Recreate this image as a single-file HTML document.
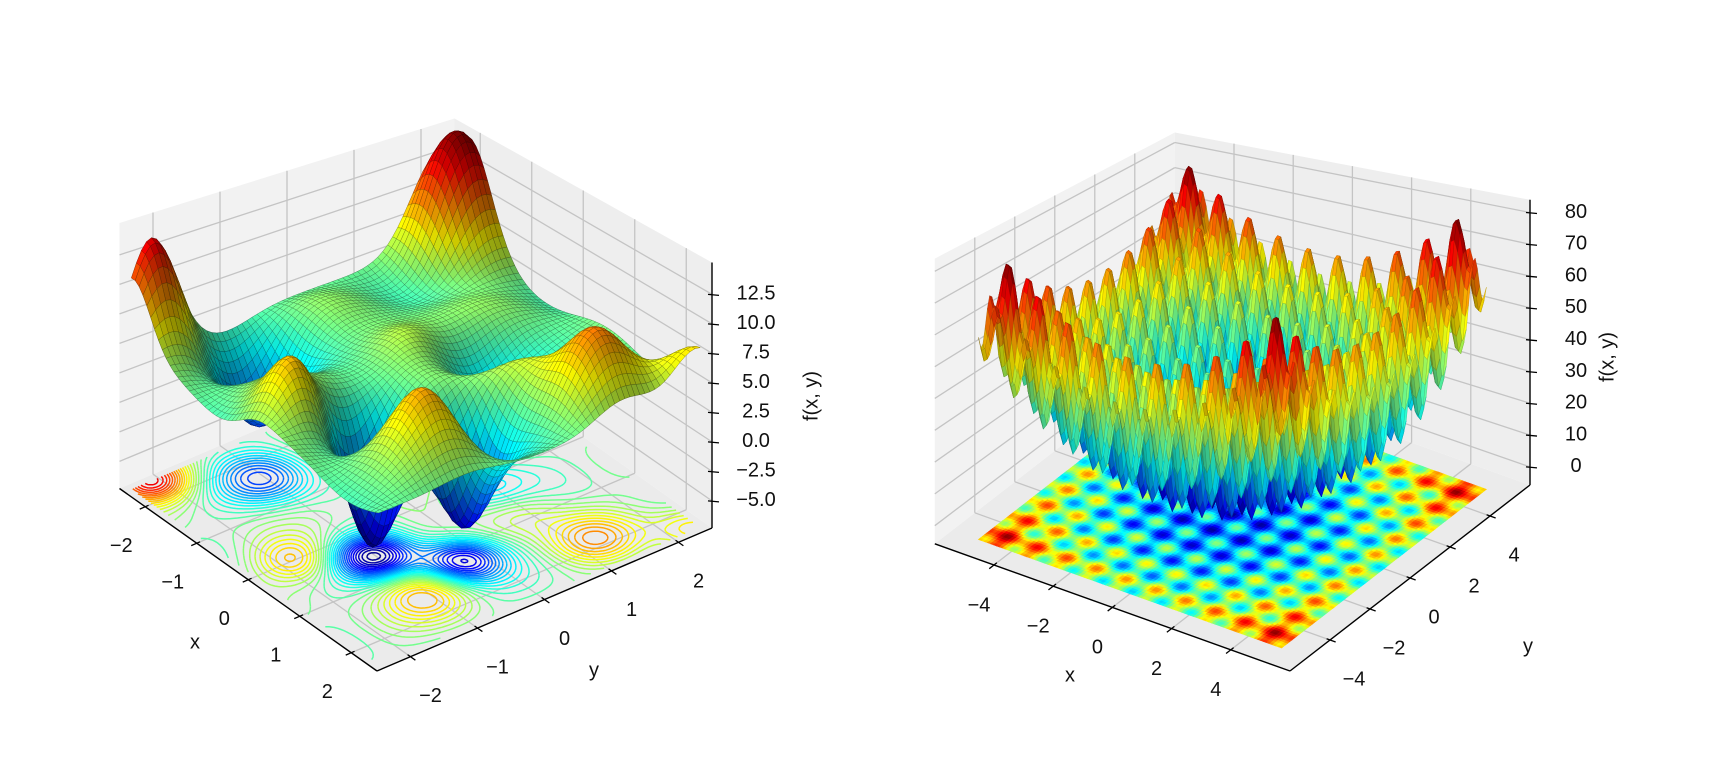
<!DOCTYPE html>
<html><head><meta charset="utf-8">
<style>
html,body{margin:0;padding:0;background:#fff;}
svg{display:block;}
text{font-family:"Liberation Sans",sans-serif;font-size:20px;fill:#111;}
</style></head>
<body>
<svg id="fig" xmlns="http://www.w3.org/2000/svg" width="1724" height="770" viewBox="0 0 1724 770">
<rect x="0" y="0" width="1724" height="770" fill="#fff"/>
</svg>
<script>
// ---------- data: left surface (sum of bumps) ----------
const bumpX   = [-2.4, -2.1, 1.53, 1.83, 0.0, -0.5, 0.8, 0.51, 1.24, -1.63, 0.2, 2.35];
const bumpY   = [-2.1,  2.2, -1.04, 1.26, -1.8, 0.2, 0.9, -1.02, -0.27, -1.02, 0.9, 2.35];
const bumpAmp = [ 9.5, 11.5, 5.0,  5.0,  5.0,  3.0, 3.0, -10.0, -9.0, -6.0, -3.5, 4.0];
const bumpW   = [0.35, 0.42, 0.4,  0.4,  0.35, 0.4, 0.4, 0.35, 0.35, 0.4, 0.4, 0.35];
const leftBase = [4.0];
// ---------- data: right surface (Rastrigin) ----------
const rastA = [10];
// ---------- ticks ----------
const leftXTicks = [-2,-1,0,1,2];
const leftYTicks = [-2,-1,0,1,2];
const leftZTicks = [-5,-2.5,0,2.5,5,7.5,10,12.5];
const leftZLabels = ["\u22125.0","\u22122.5","0.0","2.5","5.0","7.5","10.0","12.5"];
const rightXTicks = [-4,-2,0,2,4];
const rightYTicks = [-4,-2,0,2,4];
const rightZTicks = [0,10,20,30,40,50,60,70,80];

const NS="http://www.w3.org/2000/svg";
const svg=document.getElementById('fig');
function mk(tag,parent){const e=document.createElementNS(NS,tag);parent.appendChild(e);return e;}
function clamp(v,a,b){return v<a?a:(v>b?b:v);}
function jet(t){t=clamp(t,0,1);
  return [clamp(1.5-Math.abs(4*t-3),0,1),clamp(1.5-Math.abs(4*t-2),0,1),clamp(1.5-Math.abs(4*t-1),0,1)];}
function rgb(c,s){return 'rgb('+Math.round(clamp(c[0]*s,0,1)*255)+','+Math.round(clamp(c[1]*s,0,1)*255)+','+Math.round(clamp(c[2]*s,0,1)*255)+')';}
function fmt(v){return v<0?'\u2212'+(-v):''+v;}

function leftF(x,y){let z=leftBase[0];
  for(let i=0;i<bumpX.length;i++){const dx=x-bumpX[i],dy=y-bumpY[i];z+=bumpAmp[i]*Math.exp(-(dx*dx+dy*dy)/(2*bumpW[i]*bumpW[i]));}
  z+=1.2*Math.sin(2.6*x)*Math.cos(2.2*y);
  return z;}
function rightF(x,y){const A=rastA[0];return 2*A+x*x-A*Math.cos(2*Math.PI*x)+y*y-A*Math.cos(2*Math.PI*y);}

function makeProj(c){
  return function(x,y,z){
    const d=((c.xmax-x)/(c.xmax-c.xmin)+(y-c.ymin)/(c.ymax-c.ymin))/2;
    const s=c.side*(1-c.k*(d-0.5));
    return [c.F[0]+(x-c.xmax)*c.ex[0]+(y-c.ymin)*c.ey[0],
            c.F[1]+(x-c.xmax)*c.ex[1]+(y-c.ymin)*c.ey[1]-(z-c.zmin)*s];
  };
}
function pts(arr){return arr.map(p=>p[0].toFixed(1)+','+p[1].toFixed(1)).join(' ');}

function drawPlot(c,name){
  const P=makeProj(c);
  const g=mk('g',svg);
  
  
  const panes=[
    {n:'floor-pane',fill:'#ebebeb',q:[[c.xmin,c.ymin,c.zmin],[c.xmax,c.ymin,c.zmin],[c.xmax,c.ymax,c.zmin],[c.xmin,c.ymax,c.zmin]]},
    {n:'left-pane',fill:'#f2f2f2',q:[[c.xmin,c.ymin,c.zmin],[c.xmin,c.ymax,c.zmin],[c.xmin,c.ymax,c.zmax],[c.xmin,c.ymin,c.zmax]]},
    {n:'right-pane',fill:'#eeeeee',q:[[c.xmin,c.ymax,c.zmin],[c.xmax,c.ymax,c.zmin],[c.xmax,c.ymax,c.zmax],[c.xmin,c.ymax,c.zmax]]}];
  panes.forEach(p=>{const e=mk('polygon',g);
    
    
    e.setAttribute('points',pts(p.q.map(v=>P(v[0],v[1],v[2]))));e.setAttribute('fill',p.fill);});
  const gg=mk('g',g);
  
  
  function gl(a,b){const e=mk('line',gg);const p=P(a[0],a[1],a[2]),q=P(b[0],b[1],b[2]);
    e.setAttribute('x1',p[0]);e.setAttribute('y1',p[1]);e.setAttribute('x2',q[0]);e.setAttribute('y2',q[1]);
    e.setAttribute('stroke','#c4c4c4');e.setAttribute('stroke-width','1.3');}
  c.xt.forEach(t=>{gl([t,c.ymin,c.zmin],[t,c.ymax,c.zmin]);gl([t,c.ymax,c.zmin],[t,c.ymax,c.zmax]);});
  c.yt.forEach(t=>{gl([c.xmin,t,c.zmin],[c.xmax,t,c.zmin]);gl([c.xmin,t,c.zmin],[c.xmin,t,c.zmax]);});
  c.zt.forEach(t=>{gl([c.xmin,c.ymin,t],[c.xmin,c.ymax,t]);gl([c.xmin,c.ymax,t],[c.xmax,c.ymax,t]);});
  const ax=mk('g',g);
  
  
  function line(p,q,w){const e=mk('line',ax);e.setAttribute('x1',p[0]);e.setAttribute('y1',p[1]);e.setAttribute('x2',q[0]);e.setAttribute('y2',q[1]);e.setAttribute('stroke','#000');e.setAttribute('stroke-width',w);return e;}
  line(P(c.xmin,c.ymin,c.zmin),P(c.xmax,c.ymin,c.zmin),1.4);
  line(P(c.xmax,c.ymin,c.zmin),P(c.xmax,c.ymax,c.zmin),1.4);
  line(P(c.xmax,c.ymax,c.zmin),P(c.xmax,c.ymax,c.zmax),1.4);
  function label(txt,x,y,nm,rot){const t=mk('text',g);t.textContent=txt;
    t.setAttribute('x',x);t.setAttribute('y',y);t.setAttribute('text-anchor','middle');t.setAttribute('dominant-baseline','middle');
    if(rot)t.setAttribute('transform','rotate(-90 '+x+' '+y+')');
    
    
    return t;}
  const eyl=Math.hypot(c.ey[0],c.ey[1]), exl=Math.hypot(c.ex[0],c.ex[1]);
  c.xt.forEach(t=>{const p=P(t,c.ymin,c.zmin);const u=[-c.ey[0]/eyl*6,-c.ey[1]/eyl*6];
    line([p[0]-u[0]*0.6,p[1]-u[1]*0.6],[p[0]+u[0],p[1]+u[1]],1.3);
    label(fmt(t),p[0]+c.xo[0],p[1]+c.xo[1],'x-tick-label');});
  c.yt.forEach(t=>{const p=P(c.xmax,t,c.zmin);const u=[c.ex[0]/exl*6,c.ex[1]/exl*6];
    line([p[0]-u[0]*0.6,p[1]-u[1]*0.6],[p[0]+u[0],p[1]+u[1]],1.3);
    label(fmt(t),p[0]+c.yo[0],p[1]+c.yo[1],'y-tick-label');});
  c.zt.forEach((t,i)=>{const p=P(c.xmax,c.ymax,t);
    line([p[0]-4,p[1]],[p[0]+7,p[1]+1],1.3);
    label(c.zl?c.zl[i]:fmt(t),p[0]+c.zo,p[1],'z-tick-label');});
  label('x',c.xl[0],c.xl[1],'x-axis-title');
  label('y',c.yl[0],c.yl[1],'y-axis-title');
  label('f(x, y)',c.fl[0],c.fl[1],'z-axis-title',true);
  return {P,g};
}

function gridVals(f,lo,hi,N){const xs=[],Z=[];for(let i=0;i<=N;i++)xs.push(lo+(hi-lo)*i/N);
  for(let i=0;i<=N;i++){const r=[];for(let j=0;j<=N;j++)r.push(f(xs[i],xs[j]));Z.push(r);}return {xs,Z};}
function minmax(Z){let a=1e9,b=-1e9;Z.forEach(r=>r.forEach(v=>{if(v<a)a=v;if(v>b)b=v;}));return [a,b];}

function drawSurface(c,P,g,f,lo,hi,N,sz,edge,ew,sb,sa){
  const {xs,Z}=gridVals(f,lo,hi,N);const [zmn,zmx]=minmax(Z);
  const sg=mk('g',g);
  
  
  const quads=[];const h=(hi-lo)/N;
  const L=[-0.55,-0.7,1];const Ll=Math.hypot(...L);
  for(let i=0;i<N;i++)for(let j=0;j<N;j++){
    const z00=Z[i][j],z10=Z[i+1][j],z01=Z[i][j+1],z11=Z[i+1][j+1];
    const zc=(z00+z10+z01+z11)/4;
    const gx=((z10+z11)-(z00+z01))/(2*h)*sz, gy=((z01+z11)-(z00+z10))/(2*h)*sz;
    const n=[-gx,-gy,1];const nl=Math.hypot(...n);
    const dot=(n[0]*L[0]+n[1]*L[1]+n[2]*L[2])/(nl*Ll);
    const sh=clamp(sb+sa*dot,0.55,1.08);
    const xc=(xs[i]+xs[i+1])/2,yc=(xs[j]+xs[j+1])/2;
    const d=((c.xmax-xc)/(c.xmax-c.xmin)+(yc-c.ymin)/(c.ymax-c.ymin));
    quads.push({d,i,j,zc,sh});}
  quads.sort((a,b)=>b.d-a.d);
  quads.forEach(q=>{const i=q.i,j=q.j;
    const col=jet((q.zc-zmn)/(zmx-zmn));
    const e=mk('polygon',sg);
    e.setAttribute('points',pts([P(xs[i],xs[j],Z[i][j]),P(xs[i+1],xs[j],Z[i+1][j]),P(xs[i+1],xs[j+1],Z[i+1][j+1]),P(xs[i],xs[j+1],Z[i][j+1])]));
    e.setAttribute('fill',rgb(col,q.sh));
    e.setAttribute('stroke',rgb(col,q.sh*edge));
    e.setAttribute('stroke-width',ew);});
}

function drawContours(c,P,g,f,lo,hi,N,nlev){
  const {xs,Z}=gridVals(f,lo,hi,N);const [a,b]=minmax(Z);
  const cg=mk('g',g);
  
  
  for(let l=0;l<nlev;l++){const lev=a+(b-a)*(l+0.5)/nlev;let dstr='';
    for(let i=0;i<N;i++)for(let j=0;j<N;j++){
      const cs=[[i,j],[i+1,j],[i+1,j+1],[i,j+1]];const pp=[];
      for(let k=0;k<4;k++){const p1=cs[k],p2=cs[(k+1)%4];const v1=Z[p1[0]][p1[1]],v2=Z[p2[0]][p2[1]];
        if((v1<lev)!==(v2<lev)){const t=(lev-v1)/(v2-v1);
          const x=xs[p1[0]]+(xs[p2[0]]-xs[p1[0]])*t,y=xs[p1[1]]+(xs[p2[1]]-xs[p1[1]])*t;pp.push(P(x,y,c.zmin));}}
      for(let k=0;k+1<pp.length;k+=2)dstr+='M'+pp[k][0].toFixed(1)+' '+pp[k][1].toFixed(1)+'L'+pp[k+1][0].toFixed(1)+' '+pp[k+1][1].toFixed(1);}
    if(dstr){const e=mk('path',cg);e.setAttribute('d',dstr);e.setAttribute('fill','none');
      e.setAttribute('stroke',rgb(jet((lev-a)/(b-a)),1));e.setAttribute('stroke-width','1.5');
      
      }}
  return cg;
}

function drawFloorHeat(c,P,g,f,lo,hi,N){
  const {xs,Z}=gridVals(f,lo,hi,N);const [a,b]=minmax(Z);
  const cg=mk('g',g);
  
  
  for(let i=0;i<N;i++)for(let j=0;j<N;j++){const v=(Z[i][j]+Z[i+1][j]+Z[i][j+1]+Z[i+1][j+1])/4;
    const col=rgb(jet((v-a)/(b-a)),1);const e=mk('polygon',cg);
    e.setAttribute('points',pts([P(xs[i],xs[j],c.zmin),P(xs[i+1],xs[j],c.zmin),P(xs[i+1],xs[j+1],c.zmin),P(xs[i],xs[j+1],c.zmin)]));
    e.setAttribute('fill',col);e.setAttribute('stroke',col);e.setAttribute('stroke-width','0.6');}
}

const LC={F:[377,671],ex:[51.5,36.5],ey:[67,-28.6],side:11.8,k:0.29,xmin:-2.5,xmax:2.5,ymin:-2.5,ymax:2.5,zmin:-7.3,zmax:15.2,
  xt:leftXTicks,yt:leftYTicks,zt:leftZTicks,zl:leftZLabels,xo:[-24,40],yo:[20,40],zo:44,xl:[195,643],yl:[594,671],fl:[812,396]};
const l=drawPlot(LC,'left-3d-plot');
drawContours(LC,l.P,l.g,leftF,-2.4,2.4,110,40);
drawSurface(LC,l.P,l.g,leftF,-2.4,2.4,64,0.19,0.55,0.45,0.66,0.42);

const RC={F:[1290,671],ex:[29.6,10.6],ey:[20,-15.5],side:3.18,k:0.42,xmin:-6,xmax:6,ymin:-6,ymax:6,zmin:-5.7,zmax:84,
  xt:rightXTicks,yt:rightYTicks,zt:rightZTicks,xo:[-15,41],yo:[24,40],zo:46,xl:[1070,676],yl:[1528,647],fl:[1608,357]};
const r=drawPlot(RC,'right-3d-plot');
drawFloorHeat(RC,r.P,r.g,rightF,-5.12,5.12,100);
drawSurface(RC,r.P,r.g,rightF,-5.12,5.12,92,0.1,0.72,0.35,0.82,0.25);
</script>
</body></html>
